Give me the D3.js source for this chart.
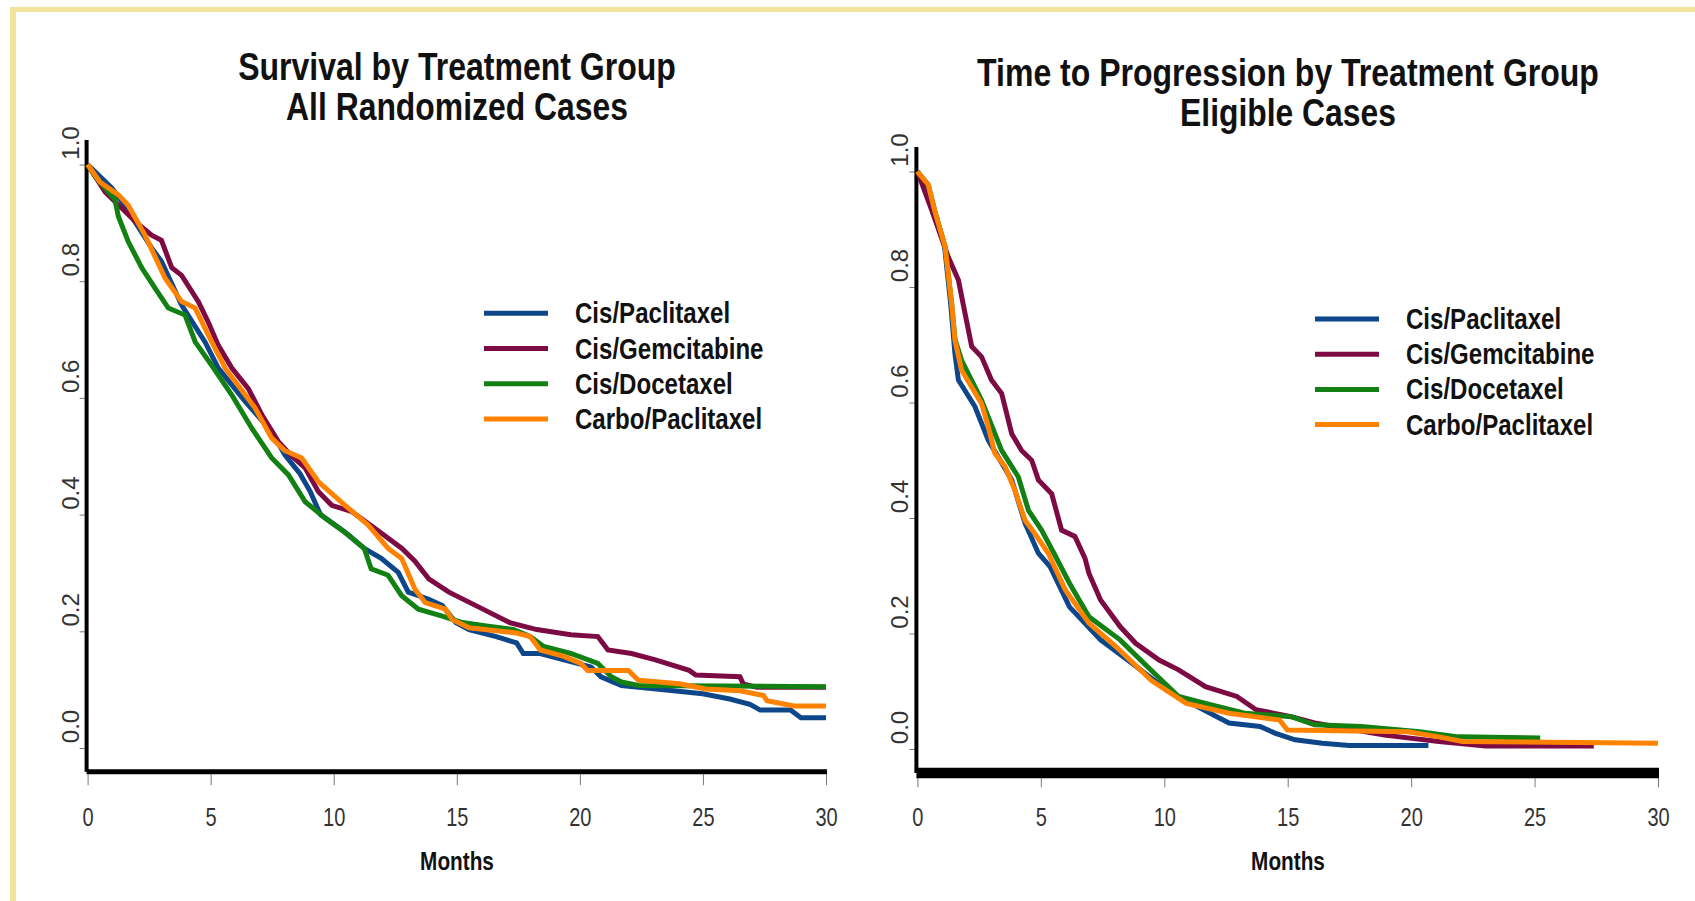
<!DOCTYPE html>
<html>
<head>
<meta charset="utf-8">
<script src="https://cdn.jsdelivr.net/npm/d3@7"></script>
<style>
body{margin:0;background:#fff;overflow:hidden}
.title{font-family:"Liberation Sans Narrow","Arial Narrow","Liberation Sans",sans-serif;font-weight:bold;font-size:38px;fill:#111}
.legend{font-family:"Liberation Sans",Arial,sans-serif;font-weight:bold;font-size:29px;fill:#111}
.xlab{font-family:"Liberation Sans",Arial,sans-serif;font-weight:bold;font-size:25px;fill:#111}
.xtick text{font-family:"Liberation Sans",Arial,sans-serif;font-size:25px;fill:#333}
.ytick text{font-family:"Liberation Sans",Arial,sans-serif;font-size:24px;fill:#333}
</style>
</head>
<body>
<script>
let groups = ["Cis/Paclitaxel", "Cis/Gemcitabine", "Cis/Docetaxel", "Carbo/Paclitaxel"]
let colors = ["#0d478a", "#7d0b43", "#128012", "#ff8300"]
let xTicks = [0, 5, 10, 15, 20, 25, 30]
let yTicks = [0, 0.2, 0.4, 0.6, 0.8, 1.0]

// survival, all randomized cases  [month, proportion]
let osCisPac = [[0,1],[0.98,0.96],[1.5,0.93],[2.6,0.857],[3.0,0.834],[3.82,0.759],[4.77,0.696],[5.31,0.651],[6.4,0.594],[7.48,0.542],[8.02,0.502],[8.63,0.47],[9.04,0.44],[9.46,0.40],[10.42,0.371],[11.24,0.342],[11.93,0.325],[12.62,0.301],[13.03,0.267],[13.86,0.255],[14.41,0.244],[14.96,0.215],[15.5,0.203],[16.6,0.191],[17.43,0.18],[17.7,0.162],[18.39,0.162],[19.35,0.151],[20.45,0.139],[20.86,0.122],[21.69,0.107],[23.61,0.099],[24.99,0.093],[26.09,0.084],[26.91,0.075],[27.33,0.065],[28.56,0.065],[28.98,0.052],[30,0.052]]
let osCisGem = [[0,1],[0.71,0.953],[1.39,0.925],[2.0,0.9],[2.6,0.879],[3.0,0.87],[3.42,0.823],[3.82,0.81],[4.5,0.765],[4.9,0.73],[5.31,0.69],[5.86,0.651],[6.53,0.616],[7.08,0.571],[7.75,0.525],[8.3,0.5],[8.84,0.48],[9.38,0.439],[9.92,0.416],[10.74,0.405],[11.68,0.376],[12.77,0.342],[13.3,0.32],[13.86,0.29],[14.68,0.267],[16.06,0.238],[17.15,0.215],[18.25,0.203],[19.63,0.194],[20.73,0.191],[21.14,0.168],[22.1,0.162],[23.07,0.151],[24.44,0.133],[24.71,0.125],[26.5,0.122],[26.64,0.11],[27.19,0.104],[30,0.104]]
let osCisDoc = [[0,1],[0.3,0.98],[1.11,0.94],[1.25,0.911],[1.65,0.868],[2.2,0.823],[2.74,0.788],[3.28,0.754],[3.96,0.742],[4.37,0.696],[5.04,0.656],[5.86,0.605],[6.67,0.548],[7.48,0.497],[8.16,0.468],[8.84,0.422],[9.65,0.394],[10.6,0.365],[11.24,0.342],[11.52,0.307],[12.21,0.296],[12.76,0.261],[13.44,0.238],[14.41,0.226],[15.23,0.215],[16.19,0.209],[17.29,0.203],[17.98,0.191],[18.53,0.174],[19.63,0.162],[20.73,0.145],[21.28,0.122],[21.69,0.113],[22.38,0.107],[30,0.105]]
let osCarboPac = [[0,1],[0.5,0.97],[1.25,0.948],[1.65,0.93],[2.33,0.879],[3.15,0.805],[3.82,0.765],[4.37,0.754],[4.9,0.708],[5.59,0.651],[6.8,0.583],[7.48,0.531],[8.0,0.51],[8.7,0.497],[9.38,0.456],[10.46,0.416],[11.4,0.382],[12.21,0.342],[12.76,0.325],[13.3,0.272],[13.72,0.249],[14.54,0.238],[14.82,0.22],[15.5,0.206],[17.43,0.197],[17.98,0.191],[18.39,0.168],[19.35,0.157],[20.04,0.145],[20.32,0.133],[21.97,0.133],[22.38,0.116],[24.03,0.11],[25.13,0.101],[26.5,0.098],[27.46,0.09],[27.6,0.081],[28.7,0.072],[30,0.072]]

// time to progression, eligible cases
let ttpCisPac = [[0,1],[0.4,0.975],[0.7,0.93],[1.1,0.87],[1.35,0.77],[1.52,0.685],[1.66,0.639],[2.33,0.593],[2.87,0.535],[3.82,0.466],[4.36,0.391],[4.9,0.339],[5.37,0.316],[6.16,0.246],[7.42,0.189],[8.68,0.149],[10.1,0.102],[11.36,0.073],[12.62,0.045],[13.88,0.039],[14.51,0.027],[15.3,0.016],[16.4,0.01],[17.5,0.006],[20.7,0.006]]
let ttpCisGem = [[0,1],[0.58,0.933],[1.25,0.852],[1.66,0.812],[1.93,0.754],[2.2,0.697],[2.6,0.679],[3.0,0.639],[3.41,0.616],[3.82,0.546],[4.22,0.517],[4.63,0.5],[4.9,0.466],[5.44,0.442],[5.84,0.379],[6.38,0.368],[6.79,0.33],[6.95,0.304],[7.42,0.258],[8.21,0.212],[8.84,0.183],[9.79,0.154],[10.58,0.137],[11.67,0.108],[12.94,0.091],[13.72,0.068],[15.14,0.056],[16.09,0.045],[18.92,0.024],[21.13,0.013],[23.02,0.005],[27.4,0.005]]
let ttpCisDoc = [[0,1],[0.44,0.977],[0.71,0.931],[1.12,0.87],[1.39,0.771],[1.52,0.71],[1.79,0.673],[2.6,0.604],[3.41,0.517],[4.09,0.471],[4.5,0.413],[5.03,0.379],[5.53,0.339],[6.16,0.287],[6.95,0.229],[8.21,0.189],[9.31,0.143],[10.58,0.091],[11.67,0.079],[13.25,0.062],[15.14,0.056],[16.09,0.042],[17.98,0.039],[20.34,0.03],[21.92,0.021],[25.23,0.019]]
let ttpCarboPac = [[0,1],[0.44,0.977],[0.71,0.931],[1.12,0.87],[1.39,0.771],[1.52,0.708],[1.79,0.656],[2.6,0.598],[2.87,0.558],[3.14,0.512],[3.55,0.489],[3.95,0.448],[4.36,0.396],[4.76,0.373],[5.3,0.339],[6.0,0.275],[6.95,0.218],[8.05,0.177],[9.47,0.119],[10.89,0.079],[12.62,0.062],[14.67,0.05],[14.99,0.033],[19.87,0.03],[21.13,0.021],[22.08,0.013],[30,0.01]]

let width = 1695
let height = 901

// layout of the two panels (pixels)
let panels = [
    {
        title: ["Survival by Treatment Group", "All Randomized Cases"],
        titleY: [80, 120], titleW: [438, 342], cx: 457,
        series: [osCisPac, osCisGem, osCisDoc, osCarboPac],
        xr: [87.6, 826], yr: [748, 164.5],
        yTop: 140, axisY: 771.7, axisW: 5,
        legX: 484, legY: 313.3
    },
    {
        title: ["Time to Progression by Treatment Group", "Eligible Cases"],
        titleY: [86, 126], titleW: [622, 216], cx: 1288,
        series: [ttpCisPac, ttpCisGem, ttpCisDoc, ttpCarboPac],
        xr: [917.4, 1658], yr: [749, 171.5],
        yTop: 147, axisY: 773, axisW: 10.6,
        legX: 1315, legY: 319
    }
]

let svg = d3.select("body").append("svg")
    .attr("width", width)
    .attr("height", height)

// yellow frame (top and left only)
svg.append("rect").attr("x", 10).attr("y", 7).attr("width", width - 10).attr("height", 5).attr("fill", "#f3e29c")
svg.append("rect").attr("x", 10).attr("y", 7).attr("width", 6).attr("height", height - 7).attr("fill", "#f3e29c")

panels.forEach(p => drawPanel(p))

//no narrow font installed, so squeeze text horizontally
function squeeze(sel, k, tx, ty){
    sel.attr("transform", `translate(${tx || 0},${ty || 0}) scale(${k},1)`)
}

function drawPanel(p){
    let x = d3.scaleLinear().domain([0, 30]).range(p.xr)
    let y = d3.scaleLinear().domain([0, 1]).range(p.yr)
    let g = svg.append("g")
    let ax = p.xr[0] - 1

    p.title.forEach((t, i) => {
        let tt = g.append("text")
            .attr("class", "title")
            .attr("text-anchor", "middle")
            .text(t)
        let w = tt.node().getComputedTextLength()
        squeeze(tt, p.titleW[i] / w, p.cx, p.titleY[i])
    })

    // x axis: thin ticks below a thick bar
    let xa = g.append("g")
        .attr("class", "xtick")
        .attr("transform", `translate(0,${p.axisY + p.axisW / 2})`)
        .call(d3.axisBottom(x).tickValues(xTicks).tickSize(p.axisW > 6 ? 9 : 11).tickSizeOuter(0))
    xa.select(".domain").remove()
    xa.selectAll(".tick line").attr("stroke", "#777").attr("stroke-width", 1)
    xa.selectAll(".tick text").attr("y", 0).attr("dy", 0)
        .attr("transform", `translate(0,${826 - p.axisY - p.axisW / 2}) scale(0.8,1)`)

    g.append("line")
        .attr("x1", ax).attr("x2", p.xr[1] + 1)
        .attr("y1", p.axisY).attr("y2", p.axisY)
        .attr("stroke", "#000").attr("stroke-width", p.axisW)

    // y axis
    let ya = g.append("g")
        .attr("class", "ytick")
        .attr("transform", `translate(${ax},0)`)
        .call(d3.axisLeft(y).tickValues(yTicks).tickSize(7).tickFormat(d3.format(".1f")))
    ya.select(".domain").remove()
    ya.selectAll(".tick line").attr("stroke", "#777").attr("stroke-width", 1)
    ya.selectAll(".tick text")
        .attr("x", 0).attr("dy", 0)
        .attr("text-anchor", "middle")
        .attr("transform", "translate(-8,-22) rotate(-90)")

    g.append("line")
        .attr("x1", ax).attr("x2", ax)
        .attr("y1", p.yTop).attr("y2", p.axisY)
        .attr("stroke", "#000").attr("stroke-width", 4)

    let ml = g.append("text")
        .attr("class", "xlab")
        .attr("text-anchor", "middle")
        .text("Months")
    squeeze(ml, 0.83, p.cx, 870)

    // KM curves, orange drawn last
    let line = d3.line()
        .x(d => x(d[0]))
        .y(d => y(d[1]))
    p.series.forEach((s, i) => {
        g.append("path")
            .datum(s)
            .attr("d", line)
            .attr("fill", "none")
            .attr("stroke", colors[i])
            .attr("stroke-width", 5)
            .attr("stroke-linejoin", "miter")
    })

    // legend
    let leg = g.selectAll("g.leg")
        .data(groups)
        .enter()
        .append("g")
        .attr("class", "leg")
        .attr("transform", (d, i) => `translate(${p.legX},${p.legY + i * 35.2})`)
    leg.append("line")
        .attr("x1", 0).attr("x2", 64)
        .attr("stroke", (d, i) => colors[i])
        .attr("stroke-width", 5)
    leg.append("text")
        .attr("class", "legend")
        .attr("transform", "translate(91,10) scale(0.83,1)")
        .text(d => d)
}
</script>
</body>
</html>
